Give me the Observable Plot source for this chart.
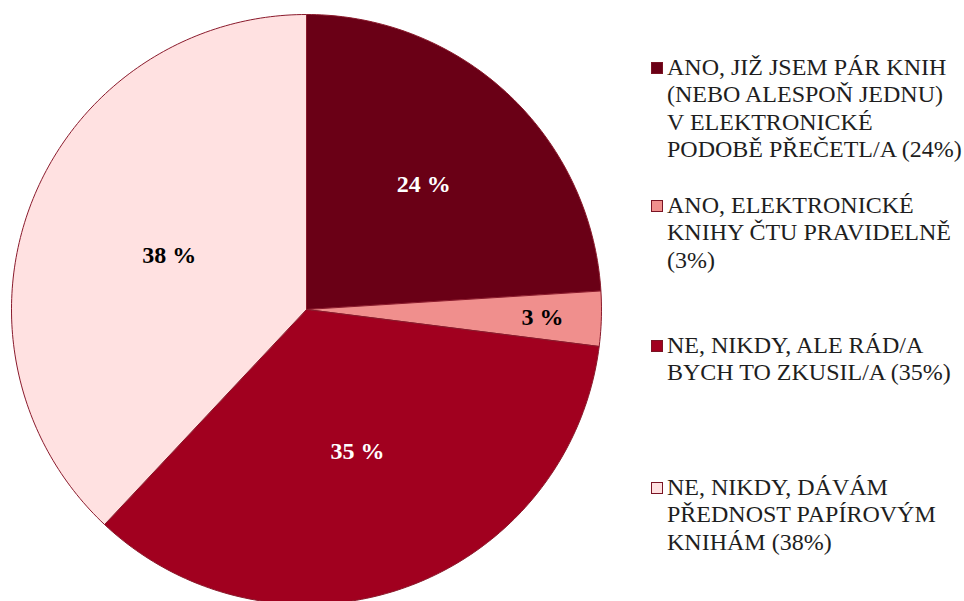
<!DOCTYPE html>
<html>
<head>
<meta charset="utf-8">
<script src="https://cdn.jsdelivr.net/npm/d3@7"></script>
<script src="https://cdn.jsdelivr.net/npm/@observablehq/plot@0.6"></script>
<style>
  html, body { margin: 0; padding: 0; background: #fff; }
  #wrap { position: relative; width: 964px; height: 601px; overflow: hidden; }
  #chart { position: absolute; left: 0; top: 0; }
  #legend { position: absolute; left: 651px; top: 0; font-family: "Liberation Serif", "Times New Roman", serif; font-size: 24px; color: #1e1e1e; }
  .item { position: absolute; left: 0; white-space: nowrap; line-height: 27.4px; }
  .sw { position: absolute; left: 0; width: 10px; height: 10px; border: 1px solid #7a1424; }
  .txt { position: absolute; left: 16px; top: 0; }
</style>
</head>
<body>
<div id="wrap"><div id="chart"></div><div id="legend"></div></div>
<script>
// ---- data ----
const categories = [
  "ANO, JIŽ JSEM PÁR KNIH (NEBO ALESPOŇ JEDNU) V ELEKTRONICKÉ PODOBĚ PŘEČETL/A",
  "ANO, ELEKTRONICKÉ KNIHY ČTU PRAVIDELNĚ",
  "NE, NIKDY, ALE RÁD/A BYCH TO ZKUSIL/A",
  "NE, NIKDY, DÁVÁM PŘEDNOST PAPÍROVÝM KNIHÁM"
];
const values = [24, 3, 35, 38];
const sliceLabels = ["24 %", "3 %", "35 %", "38 %"];
const legendLines = [
  ["ANO, JIŽ JSEM PÁR KNIH", "(NEBO ALESPOŇ JEDNU)", "V ELEKTRONICKÉ", "PODOBĚ PŘEČETL/A (24%)"],
  ["ANO, ELEKTRONICKÉ", "KNIHY ČTU PRAVIDELNĚ", "(3%)"],
  ["NE, NIKDY, ALE RÁD/A", "BYCH TO ZKUSIL/A (35%)"],
  ["NE, NIKDY, DÁVÁM", "PŘEDNOST PAPÍROVÝM", "KNIHÁM (38%)"]
];

// ---- styles / layout ----
const colors = ["#6a0016", "#f08f8d", "#a1001f", "#ffe1e1"];
const labelColors = ["#ffffff", "#000000", "#ffffff", "#000000"];
const labelRadius = [0.58, 0.80, 0.51, 0.50];
const legendTops = [54, 192, 332, 474];

// build slice polygons from the values via d3.pie
const pie = d3.pie().sort(null).value(d => d)(values);
const pts = [];
pie.forEach((p, i) => {
  const cat = categories[i];
  pts.push({cat, x: 0, y: 0});
  const n = Math.max(4, Math.ceil((p.endAngle - p.startAngle) / (2 * Math.PI) * 360));
  for (let k = 0; k <= n; k++) {
    const a = p.startAngle + (p.endAngle - p.startAngle) * k / n;
    pts.push({cat, x: Math.sin(a), y: Math.cos(a)});
  }
  pts.push({cat, x: 0, y: 0});
});
const labels = pie.map((p, i) => {
  const a = (p.startAngle + p.endAngle) / 2;
  return {text: sliceLabels[i], x: labelRadius[i] * Math.sin(a), y: labelRadius[i] * Math.cos(a), light: labelColors[i] === "#000000"};
});

const font = "Liberation Serif, Times New Roman, serif";
const chart = Plot.plot({
  width: 640,
  height: 601,
  margin: 0,
  x: {domain: [-1, 1], range: [11, 601], axis: null},
  y: {domain: [-1, 1], range: [604, 14], axis: null},
  color: {domain: categories, range: colors},
  style: {background: "transparent", overflow: "visible"},
  marks: [
    Plot.line(pts, {x: "x", y: "y", z: "cat", fill: "cat", stroke: "#8a1a2c", strokeWidth: 1, strokeLinejoin: "round", curve: "linear"}),
    Plot.text(labels.filter(d => !d.light), {x: "x", y: "y", text: "text", fill: "#ffffff", fontSize: 24, fontWeight: "bold", fontFamily: font}),
    Plot.text(labels.filter(d => d.light), {x: "x", y: "y", text: "text", fill: "#000000", fontSize: 24, fontWeight: "bold", fontFamily: font})
  ]
});
document.getElementById("chart").appendChild(chart);

// legend
const legend = document.getElementById("legend");
legendLines.forEach((lines, i) => {
  const item = document.createElement("div");
  item.className = "item";
  item.style.top = legendTops[i] + "px";
  const sw = document.createElement("div");
  sw.className = "sw";
  sw.style.background = colors[i];
  sw.style.top = "8px";
  item.appendChild(sw);
  const t = document.createElement("div");
  t.className = "txt";
  t.innerHTML = lines.join("<br>");
  item.appendChild(t);
  legend.appendChild(item);
});
</script>
</body>
</html>
